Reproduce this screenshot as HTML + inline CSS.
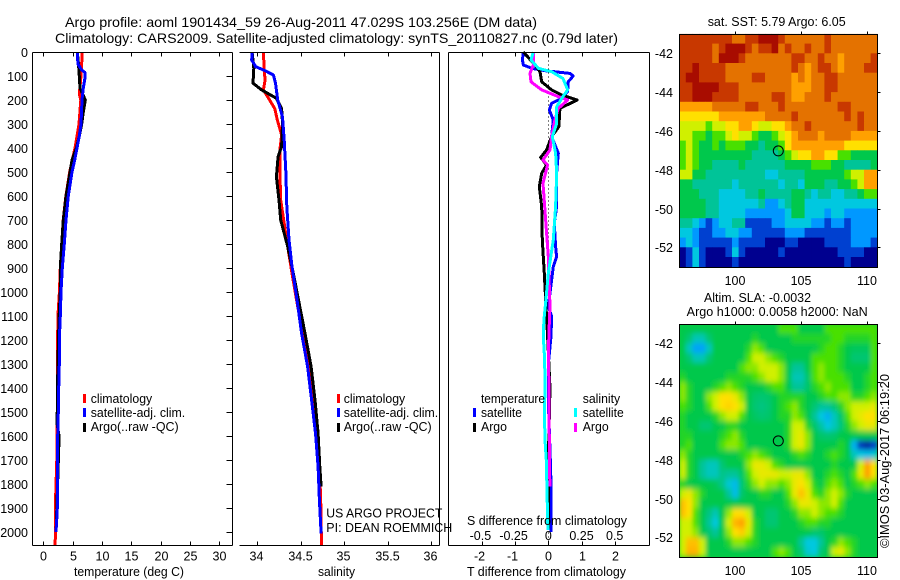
<!DOCTYPE html>
<html>
<head>
<meta charset="utf-8">
<title>Argo profile</title>
<style>
html,body{margin:0;padding:0;background:#fff;width:900px;height:580px;overflow:hidden}
svg{display:block;font-family:"Liberation Sans",sans-serif;fill:#000}
text{font-size:12.5px}
.t{font-size:14px}
.ax{stroke:#000;stroke-width:1;fill:none;shape-rendering:crispEdges}
</style>
</head>
<body>
<svg id="chart" width="900" height="580" viewBox="0 0 900 580" xmlns="http://www.w3.org/2000/svg">
<defs>
<clipPath id="clip-sla"><rect x="679.5" y="324.5" width="198" height="233"/></clipPath>
<filter id="smooth" filterUnits="userSpaceOnUse" x="660" y="300" width="240" height="280"><feGaussianBlur stdDeviation="2 2.8"/></filter>
</defs>
<text class="t" x="65" y="27" textLength="472" lengthAdjust="spacingAndGlyphs">Argo profile: aoml 1901434_59 26-Aug-2011 47.029S 103.256E (DM data)</text>
<text class="t" x="55" y="43" textLength="563" lengthAdjust="spacingAndGlyphs">Climatology: CARS2009. Satellite-adjusted climatology: synTS_20110827.nc (0.79d later)</text>
<g id="maps"></g>
<g id="panels"></g>

<text x="74" y="576" textLength="110" lengthAdjust="spacingAndGlyphs">temperature (deg C)</text>
<text x="318" y="576" textLength="37" lengthAdjust="spacingAndGlyphs">salinity</text>
<text x="467" y="576" textLength="159" lengthAdjust="spacingAndGlyphs">T difference from climatology</text>
<text x="467" y="525" textLength="160" lengthAdjust="spacingAndGlyphs">S difference from climatology</text>
<text x="326.3" y="517.5" textLength="116" lengthAdjust="spacingAndGlyphs">US ARGO PROJECT</text>
<text x="326.3" y="532" textLength="126" lengthAdjust="spacingAndGlyphs">PI: DEAN ROEMMICH</text>

<g>
<rect x="83" y="394" width="3" height="9" fill="#f00"/>
<rect x="83" y="408" width="3" height="9" fill="#00f"/>
<rect x="83" y="423" width="3" height="9" fill="#000"/>
<text x="90.7" y="403" textLength="61.5" lengthAdjust="spacingAndGlyphs">climatology</text>
<text x="90.7" y="417" textLength="94.5" lengthAdjust="spacingAndGlyphs">satellite-adj. clim.</text>
<text x="90.7" y="431" textLength="88" lengthAdjust="spacingAndGlyphs">Argo(..raw -QC)</text>
</g>
<g>
<rect x="337" y="394" width="3" height="9" fill="#f00"/>
<rect x="337" y="408" width="3" height="9" fill="#00f"/>
<rect x="337" y="423" width="3" height="9" fill="#000"/>
<text x="343.7" y="403" textLength="61.5" lengthAdjust="spacingAndGlyphs">climatology</text>
<text x="343.7" y="417" textLength="94.5" lengthAdjust="spacingAndGlyphs">satellite-adj. clim.</text>
<text x="343.7" y="431" textLength="88" lengthAdjust="spacingAndGlyphs">Argo(..raw -QC)</text>
</g>
<g>
<text x="481" y="403" textLength="64" lengthAdjust="spacingAndGlyphs">temperature</text>
<text x="582.7" y="403" textLength="37.5" lengthAdjust="spacingAndGlyphs">salinity</text>
<rect x="473" y="408" width="3" height="9" fill="#00f"/>
<rect x="473" y="423" width="3" height="9" fill="#000"/>
<rect x="574" y="408" width="3" height="9" fill="#0ff"/>
<rect x="574" y="423" width="3" height="9" fill="#f0f"/>
<text x="481" y="417" textLength="41" lengthAdjust="spacingAndGlyphs">satellite</text>
<text x="481" y="431" textLength="26" lengthAdjust="spacingAndGlyphs">Argo</text>
<text x="582.7" y="417" textLength="41" lengthAdjust="spacingAndGlyphs">satellite</text>
<text x="582.7" y="431" textLength="26" lengthAdjust="spacingAndGlyphs">Argo</text>
</g>

<text x="707.7" y="26" textLength="138" lengthAdjust="spacingAndGlyphs">sat. SST: 5.79 Argo: 6.05</text>
<text x="704" y="302" textLength="107" lengthAdjust="spacingAndGlyphs">Altim. SLA: -0.0032</text>
<text x="686.7" y="316" textLength="181" lengthAdjust="spacingAndGlyphs">Argo h1000: 0.0058 h2000: NaN</text>
<text transform="translate(889 548) rotate(-90)" textLength="174" lengthAdjust="spacingAndGlyphs">©IMOS 03-Aug-2017 06:19:20</text>
</svg>

<script>
// ---------- profile data ----------
const depthTicks = [0,100,200,300,400,500,600,700,800,900,1000,1100,1200,1300,1400,1500,1600,1700,1800,1900,2000];
const tempTicks = [0,5,10,15,20,25,30];
const salTicks = [34,34.5,35,35.5,36];
const salTickLabels = ['34','34.5','35','35.5','36'];
const tDiffTicks = [-2,-1,0,1,2];
const sDiffTicks = [-0.5,-0.25,0,0.25,0.5];
const sDiffTickLabels = ['-0.5','-0.25','0','0.25','0.5'];

const tClimDepth = [0,100,175,200,300,400,450,500,600,700,800,900,1000,1100,1300,1500,1700,1900,2000,2055];
const tClimValue = [6.66,6.43,6.15,6.4,6.09,5.41,4.95,4.5,3.85,3.4,3.15,2.9,2.75,2.5,2.4,2.4,2.3,2.05,2.1,2.0];
const tArgoDepth = [0,50,100,150,200,250,300,350,400,450,500,600,700,800,900,1000,1100,1300,1550,1600,1985];
const tArgoValue = [5.8,6,6.15,6.26,7.17,6.83,6.55,6.15,5.64,4.9,4.56,3.87,3.41,3.14,2.9,2.9,2.7,2.5,2.35,2.7,2.2];
const tSatDepth = [0,50,75,85,110,150,200,300,350,400,450,500,600,700,800,900,1000,1100,1200,1300,1400,1500,1600,1700,1900,1950,2000];
const tSatValue = [5.8,5.9,6.55,7.1,7.1,6.83,6.6,6.43,6.15,5.75,5.35,4.9,4.27,3.87,3.59,3.24,3.02,2.9,2.73,2.73,2.62,2.56,2.45,2.39,2.39,2.28,2.17];

const sClimDepth = [0,75,117,158,193,235,283,346,408,505,617,714,811,922,1061,1172,1311,1450,1589,1728,1867,2055];
const sClimValue = [34.07,34.08,34.09,34.07,34.13,34.2,34.23,34.28,34.26,34.26,34.27,34.31,34.35,34.4,34.465,34.53,34.6,34.65,34.69,34.715,34.73,34.74];
const sArgoDepth = [0,68,130,158,193,235,297,394,436,519,617,700,811,922,1061,1172,1311,1450,1589,1728,1811];
const sArgoValue = [33.94,33.96,33.95,34.05,34.22,34.28,34.29,34.28,34.24,34.22,34.25,34.27,34.35,34.415,34.49,34.55,34.62,34.665,34.7,34.72,34.735];
const sSatDepth = [0,33,61,78,96,130,200,270,367,505,644,783,894,1033,1172,1311,1450,1589,1728,1867,2006];
const sSatValue = [33.94,33.935,33.98,34.09,34.185,34.21,34.235,34.29,34.31,34.33,34.34,34.365,34.4,34.457,34.51,34.58,34.626,34.67,34.7,34.715,34.735];

const dtSatDepth = [0,33,54,68,78,89,100,124,165,193,214,242,283,353,422,505,644,714,811,853,894,1061,1100,1186,1300,1450,1700,1800,2000];
const dtSatValue = [-0.75,-0.78,-0.75,-0.5,-0.1,0.65,0.75,0.6,0.58,0.4,0.1,0.03,0.15,0.1,0.3,0.25,0.25,0.18,0.22,0.25,0.15,0,0.1,0.08,0,0,0.06,0.08,0.08];
const dtArgoDepth = [0,54,82,124,158,179,200,235,311,353,408,439,471,505,561,644,783,922,1061,1186,1400,1700,1985];
const dtArgoValue = [-0.75,-0.4,-0.25,-0.2,0.1,0.4,0.87,0.35,0.32,0.1,-0.05,-0.23,-0.05,-0.2,-0.27,-0.2,-0.18,-0.12,-0.07,-0.02,0.05,0,0];
const dsArgoDepth = [0,54,89,124,158,186,200,235,283,353,408,450,471,547,714,853,1061,1117,1256,1400,1700,1811];
const dsArgoValue = [-0.113,-0.113,-0.138,-0.13,-0.05,0.075,0.146,0.075,0.05,0.025,0.0125,-0.04,-0.005,-0.04,-0.018,0,0.0125,0.008,0,0.005,0.008,0.012];
const dsSatDepth = [0,33,68,82,110,158,186,228,297,353,422,505,644,783,922,1033,1117,1186,1256,1381,1506,1631,1700,1867,1992];
const dsSatValue = [-0.113,-0.13,-0.075,0.025,0.11,0.146,0.11,0.063,0.063,0.03,0.055,0.063,0.055,0.038,0,-0.018,-0.033,-0.038,-0.03,-0.023,-0.03,-0.023,-0.015,-0.008,-0.003];

// ---------- map data (colour level per 0.5 degree cell, north to south) ----------
const mapLonTicks = [100,105,110];
const mapLatTicks = [-42,-44,-46,-48,-50,-52];
const floatLon = 103.256;
const floatLat = -47.029;
const sstLevels = [
[11,11,11,11,11,11,11,11,10,10,11,11,12,12,12,11,10,10,10,10,10,10,11,10,10,10,10,10,10,10],
[11,11,11,11,11,10,11,12,12,12,11,10,11,11,12,10,11,10,10,11,10,10,11,10,10,10,10,10,10,10],
[11,11,11,11,11,10,12,12,12,11,10,10,10,10,10,10,10,11,11,10,10,11,10,10,9,10,10,10,10,11],
[11,11,12,11,11,11,11,10,10,10,10,10,10,10,10,10,10,11,10,9,10,11,11,10,9,10,10,10,11,11],
[11,12,12,11,11,11,11,10,10,10,10,11,11,10,10,10,10,9,10,9,10,10,11,11,10,10,10,10,10,10],
[11,11,12,12,12,12,11,11,11,10,10,10,10,10,10,10,10,9,9,9,10,10,11,11,10,10,10,10,10,10],
[11,11,12,12,12,11,11,11,11,10,10,10,10,10,11,11,10,9,9,10,10,10,11,10,10,10,10,10,10,10],
[9,9,9,9,9,10,10,10,10,10,11,11,10,10,10,11,10,10,10,10,10,10,10,10,11,11,10,10,10,10],
[8,8,8,8,8,8,9,9,9,9,9,9,9,10,10,10,10,11,10,10,10,10,10,10,10,11,10,11,10,10],
[7,7,7,7,6,7,7,8,8,9,9,8,7,7,8,8,9,10,10,11,10,10,10,10,10,10,10,11,10,10],
[7,7,6,6,5,6,6,7,8,7,7,6,5,5,6,7,8,9,10,10,10,9,10,10,10,10,9,9,9,9],
[6,7,6,5,5,6,5,6,6,6,5,5,4,5,5,6,8,9,9,9,9,9,9,9,9,8,8,8,8,8],
[6,7,6,5,5,5,5,5,5,5,5,4,4,4,4,5,6,7,8,8,9,9,8,8,6,6,5,5,5,5],
[6,7,6,5,5,4,4,4,4,5,4,4,4,4,4,4,5,5,5,5,6,6,6,5,5,4,4,4,4,5],
[7,7,5,5,4,4,4,4,4,4,4,4,4,3,3,4,4,4,4,5,5,5,5,5,5,6,7,7,9,9],
[5,5,4,4,4,4,4,4,3,4,4,4,4,4,4,3,4,4,3,5,5,5,4,4,5,5,6,7,9,9],
[5,5,5,4,4,4,3,3,3,3,4,4,5,4,4,4,4,5,5,4,3,4,4,3,3,4,4,5,6,6],
[5,5,5,5,4,4,3,3,3,3,3,3,4,2,2,3,4,5,5,3,3,3,3,3,3,3,3,3,3,3],
[5,5,5,5,4,4,3,3,3,3,2,2,2,2,2,2,3,5,5,3,3,3,2,3,3,2,2,2,2,2],
[4,4,3,2,1,2,3,3,4,4,1,1,1,1,2,2,3,3,3,3,2,2,1,2,2,1,2,2,2,2],
[3,3,2,1,1,2,2,3,3,2,2,1,1,1,1,1,2,2,2,1,1,1,1,1,1,1,2,2,2,2],
[2,3,2,1,1,1,1,1,2,1,1,1,1,0,0,0,1,1,0,0,0,0,1,1,1,1,2,2,2,1],
[0,1,3,1,0,0,0,1,3,1,0,0,0,0,0,1,0,0,0,0,0,0,0,0,1,1,1,1,0,0],
[0,1,3,1,0,0,0,0,1,0,0,0,0,0,0,0,0,0,0,0,0,0,0,0,0,1,0,0,0,0]
];
const slaLevels = [
[5,5,5,5,5,5,5,5,5,5,5,5,5,5,5,6,6,6,5,5,5,5,6,6,6,6,6,6,6,6],
[5,4.5,3.6,3.6,4.5,5,5,5,5,5,5,5.5,5,5,5,5,5,5.5,5.5,5.5,5.5,5.5,5.5,6,6,5.5,5.5,5.5,5.5,6],
[5,3.5,2.2,2.2,3.5,5,5,5,5,5,5.5,6.5,6,5,5,5,5,5,5,5,5,5.5,6,6,5.5,5,4.8,4.8,4.8,6],
[5,4.5,3.6,3.6,4.5,5,5,5,5,5,6,7,7,6.5,6,5.5,5,5,5,5,6,6,6,6,5.5,5,4.5,4.5,4.5,6],
[5,5,5,5,5,5,5,5,5,6,6.5,6.5,7,7,7,6.5,5,4,4,5,6,6.5,6,6,5.5,5,5,5,5,6],
[5.5,5,5,5,5,5,5,5.5,5.5,5.5,5.5,6,6.5,7,7,6.5,5,3.6,3.6,4.6,6,6.5,6,6,6,5.5,5,5,5.5,6],
[6.5,5.5,5,5,5,5.5,6,6.5,6,5.5,5,5,5,5.5,6,6,5,4,4,4.6,5.5,6,6.5,6,6,6,5,5,5.5,6],
[6.5,5.5,5,5,6.5,7,8,8,7.5,6.5,5,4.6,4.5,4.6,5,5.5,5.5,5.5,5.5,5,5,5.5,6,6,6.5,6.5,5.5,5.5,6,6.5],
[6,5.5,5,5,6,7,8,8.2,8,7,5,4.5,4.3,4.5,5,5.5,6,6.5,5.5,5,4.5,4,4,4.5,5.5,6.5,7,7,7,7.5],
[5.5,5,5,5,5,5.5,6.5,7,7,6,5,4.7,4.5,4.6,5,5.5,5.5,6.5,6,5,4,3,2.5,3.5,4.6,6,7,7.5,8,8],
[5.5,5,5,4.5,4.5,5,5,5.5,5.5,5,5,5,5,5,5,5,5.5,7,7,5.5,4.6,3.8,3,3.5,4.4,5.5,6.5,7,7.5,7.5],
[5.5,5.5,5,5,5,5,5.5,6,6.5,5.5,5,5,5,5,5,5,5.5,7,7.5,6.5,5,4.6,4.5,4.6,5,5,5,5,5,5],
[5.5,6,5,5,5,5,6,6.5,6.5,6,5,5,5,5,5,5,5.5,7,7.5,6.5,5,5,5,5,5.5,5,2.5,0.7,0.3,0.9],
[6.5,5.5,5,5,5,5,5,5,5,5.5,6,6.5,6,5.5,5,5,5,5.5,6,5.5,5,5,5.5,6,5.5,5,3.5,3,2.8,3.2],
[7,5.5,5,4,3.5,3.5,4.5,5,5,5,6.5,7.5,7.5,7,6,5.5,5,5,5,5,5,5,5,5.5,5,5,5,7,9,8],
[7,5.5,5,4,3.5,3.5,4.2,4,4,4.7,6,7,7.5,7.5,7.5,7,7,7.5,7.5,6.5,5,5,5.5,6,5.5,5,6,7.5,9,8],
[5.5,5,5,5,5,4.8,4.2,3.2,2.7,4.5,5.5,6.5,7,6.5,6.5,6,6.5,7.5,8,7,5.5,5,6,6.5,6,5,5.5,6,6.5,6],
[7,7.5,6.5,5.5,5,5,5,4,2.8,4.6,5,5,5.5,5.5,5,5,6,7.5,8.5,7.5,6,5.5,6.5,7,6.5,5.5,5,5,5,5],
[8.5,8,6.5,5,5,5,5,5,5,5,5,5,5,5,5,5,5.5,6.5,7.5,7.5,7,6.5,6.5,7,6,5,5,5,5,5],
[8.5,8,6,5,4.3,3.6,5,6.5,8,8,7,5,5,4.5,4.5,5,5,5.5,6.5,6.5,7,6.5,6,6,5.5,5,5,5,5,5],
[7,7,6,5,4,3,5,7,8.7,9,7.5,5.5,5,4.5,4.5,5,5,5,5.5,6,6,5.5,5.5,5,5,5,5,5,5,5],
[7,7,6.5,5,4.5,4,5,6.5,8,8.3,7,5.5,5,5,5,5,5,5,5,5,4.6,4.6,5,5,5,5,5,5,5,5],
[7,8.5,8.5,7,5,5,5,5.5,6.5,6.5,6,5.5,5,5,5,5,5,5,4,3,3,4,5,5.5,6.5,6,5.5,5,5,5],
[7,8.7,8.7,7,5,5,5,5,5,5,5,5,5,5,6,6.5,6,5,4.5,3.2,3,4.5,5,7,7.5,6.5,5.5,5,5,5]
];
const levelColors = ['#00008f','#0040d0','#0098ff','#00c8e0','#00c498','#00c84c','#48e000','#d0f000','#ffe000','#ffa000','#e47200','#c83800','#a80c00'];

// ---------- axis functions ----------
const yDepth = d => 52 + 0.24 * d;
const xTemp = t => 43.3 + 5.86 * t;
const xSal = s => 257.3 + 86.8 * (s - 34);
const xDT = t => 548.3 + 33.2 * t;
const xDS = s => 548.3 + 132.8 * s;
const xLon = lon => 735.3 + 13.2 * (lon - 100);
const ySst = lat => 53.3 - 19.4 * (lat + 42);
const ySla = lat => 343.3 - 19.4 * (lat + 42);
const mapWestLon = 95.75;
const mapNorthLat = -41;
const cellDeg = 0.5;

const NS = 'http://www.w3.org/2000/svg';
function make(parent, tag, attrs, content) {
  const el = document.createElementNS(NS, tag);
  for (const k in attrs) el.setAttribute(k, attrs[k]);
  if (content !== undefined) el.textContent = content;
  parent.appendChild(el);
  return el;
}
function drawLine(parent, xs, ys, xf, color, name) {
  const pts = ys.map((d, i) => xf(xs[i]).toFixed(1) + ',' + yDepth(d).toFixed(1)).join(' ');
  const el = make(parent, 'polyline', {points: pts, fill: 'none', stroke: color, 'stroke-width': 3, 'stroke-linejoin': 'round', 'shape-rendering': 'crispEdges'});
  
  
}
function axisSeg(parent, x1, y1, x2, y2, name) {
  const el = make(parent, 'line', {x1: x1, y1: y1, x2: x2, y2: y2, class: 'ax'});
  
  
}
function label(parent, x, y, anchor, str, name) {
  const el = make(parent, 'text', {x: x, y: y, 'text-anchor': anchor}, str);
  
  
}
function levelColor(v) {
  const i = Math.max(0, Math.min(levelColors.length - 1.001, v));
  const a = Math.floor(i), f = i - a;
  const p = h => [1, 3, 5].map(n => parseInt(h.substr(n, 2), 16));
  const c0 = p(levelColors[a]), c1 = p(levelColors[a + 1]);
  return 'rgb(' + c0.map((c, n) => Math.round(c + (c1[n] - c) * f)).join(',') + ')';
}

const panels = document.getElementById('panels');
const maps = document.getElementById('maps');

// ---------- profile panels ----------
const yTop = 52.5, yBot = 545.5;

// temperature
const gT = make(panels, 'g', {});


drawLine(gT, tClimValue, tClimDepth, xTemp, '#f00', 'temperature-climatology-line');
drawLine(gT, tArgoValue, tArgoDepth, xTemp, '#000', 'temperature-argo-line');
drawLine(gT, tSatValue, tSatDepth, xTemp, '#00f', 'temperature-satellite-line');
axisSeg(gT, 32.5, yTop, 232.5, yTop, 'temperature-top-axis');
axisSeg(gT, 32.5, yBot, 232.5, yBot, 'temperature-bottom-axis');
axisSeg(gT, 32.5, yTop, 32.5, yBot, 'temperature-left-axis');
axisSeg(gT, 232.5, yTop, 232.5, yBot, 'temperature-right-axis');
depthTicks.forEach(d => {
  const y = Math.round(yDepth(d)) + 0.5;
  axisSeg(gT, 226.5, y, 232.5, y, 'depth-tick');
  label(gT, 28, y + 4.5, 'end', String(d), 'depth-tick-label');
});
tempTicks.forEach(t => {
  const x = Math.round(xTemp(t)) + 0.5;
  axisSeg(gT, x, yTop, x, yTop + 4, 'temperature-top-tick');
  axisSeg(gT, x, yBot - 4, x, yBot, 'temperature-bottom-tick');
  label(gT, x, 560.5, 'middle', String(t), 'temperature-tick-label');
});

// salinity
const gS = make(panels, 'g', {});


drawLine(gS, sClimValue, sClimDepth, xSal, '#f00', 'salinity-climatology-line');
drawLine(gS, sArgoValue, sArgoDepth, xSal, '#000', 'salinity-argo-line');
drawLine(gS, sSatValue, sSatDepth, xSal, '#00f', 'salinity-satellite-line');
axisSeg(gS, 239.5, yTop, 439.5, yTop, 'salinity-top-axis');
axisSeg(gS, 239.5, yBot, 439.5, yBot, 'salinity-bottom-axis');
axisSeg(gS, 439.5, yTop, 439.5, yBot, 'salinity-right-axis');
salTicks.forEach((s, i) => {
  const x = Math.round(xSal(s)) + 0.5;
  axisSeg(gS, x, yTop, x, yTop + 4, 'salinity-top-tick');
  axisSeg(gS, x, yBot - 4, x, yBot, 'salinity-bottom-tick');
  label(gS, x - 1, 560.5, 'middle', salTickLabels[i], 'salinity-tick-label');
});

// difference
const gD = make(panels, 'g', {});


const zeroLine = make(gD, 'line', {x1: 548.5, y1: yTop, x2: 548.5, y2: yBot, stroke: '#000', 'stroke-width': 1, 'stroke-dasharray': '1 3', 'shape-rendering': 'crispEdges'});


drawLine(gD, dtSatValue, dtSatDepth, xDT, '#00f', 'difference-t-satellite-line');
drawLine(gD, dtArgoValue, dtArgoDepth, xDT, '#000', 'difference-t-argo-line');
drawLine(gD, dsArgoValue, dsArgoDepth, xDS, '#f0f', 'difference-s-argo-line');
drawLine(gD, dsSatValue, dsSatDepth, xDS, '#0ff', 'difference-s-satellite-line');
axisSeg(gD, 448.5, yTop, 649.5, yTop, 'difference-top-axis');
axisSeg(gD, 448.5, yBot, 649.5, yBot, 'difference-bottom-axis');
axisSeg(gD, 448.5, yTop, 448.5, yBot, 'difference-left-axis');
axisSeg(gD, 649.5, yTop, 649.5, yBot, 'difference-right-axis');
axisSeg(gD, 445, 527.5, 451, 527.5, 'difference-side-tick');
axisSeg(gD, 450.5, 524, 450.5, 531, 'difference-side-tick-cap');
tDiffTicks.forEach(t => {
  const x = Math.round(xDT(t)) + 0.5;
  axisSeg(gD, x, yTop, x, yTop + 4, 'difference-top-tick');
  axisSeg(gD, x, yBot - 4, x, yBot, 'difference-bottom-tick');
  label(gD, x + (t < 0 ? -3 : 0), 560.5, 'middle', String(t), 'difference-t-tick-label');
});
sDiffTicks.forEach((s, i) => {
  label(gD, xDS(s) + (s < 0 ? -1.5 : 0), 540, 'middle', sDiffTickLabels[i], 'difference-s-tick-label');
});

// ---------- maps ----------
function drawMap(levels, yLat, top, bottom, name, smooth) {
  const g = make(maps, 'g', {});
  
  
  let cells = g;
  if (smooth) {
    const back = make(g, 'rect', {x: 679.5, y: top, width: 198, height: bottom - top, fill: levelColor(5.2)});
    
    
    const clip = make(g, 'g', {'clip-path': 'url(#clip-sla)'});
    
    
    cells = make(clip, 'g', {filter: 'url(#smooth)'});
    
    
  }
  levels.forEach((row, r) => {
    row.forEach((v, c) => {
      const x0 = xLon(mapWestLon + c * cellDeg), x1 = xLon(mapWestLon + (c + 1) * cellDeg);
      const y0 = yLat(mapNorthLat - r * cellDeg), y1 = yLat(mapNorthLat - (r + 1) * cellDeg);
      const rect = make(cells, 'rect', {x: x0.toFixed(2), y: y0.toFixed(2), width: (x1 - x0 + 0.4).toFixed(2), height: (y1 - y0 + 0.4).toFixed(2), fill: levelColor(v)});
      
      
    });
  });
  const frame = make(g, 'rect', {x: 679.5, y: top, width: 198, height: bottom - top, class: 'ax'});
  
  
  mapLonTicks.forEach(lon => {
    const x = Math.round(xLon(lon)) + 0.5;
    axisSeg(g, x, top - 3, x, top, 'map-lon-tick');
    label(g, x - 0.5, bottom + 17.5, 'middle', String(lon), 'map-lon-tick-label');
  });
  mapLatTicks.forEach(lat => {
    const y = Math.round(yLat(lat)) + 0.5;
    axisSeg(g, 877.5, y, 880.5, y, 'map-lat-tick');
    label(g, 673, y + 4.5, 'end', String(lat), 'map-lat-tick-label');
  });
  const marker = make(g, 'circle', {cx: xLon(floatLon).toFixed(1), cy: yLat(floatLat).toFixed(1), r: 5, fill: 'none', stroke: '#000', 'stroke-width': 1});
  
  
}
drawMap(sstLevels, ySst, 34.5, 267.5, 'sst-map', false);
drawMap(slaLevels, ySla, 324.5, 557.5, 'sla-map', true);
</script>
</body>
</html>
